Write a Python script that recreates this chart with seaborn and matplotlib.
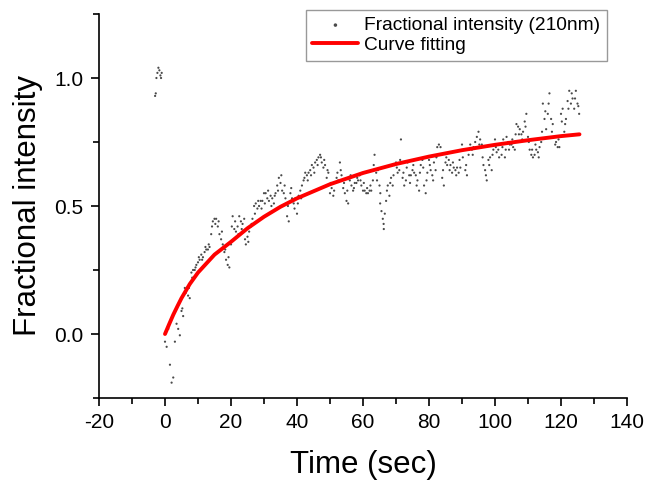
import matplotlib
matplotlib.use("Agg")
import matplotlib.pyplot as plt
import seaborn as sns
from matplotlib.ticker import MultipleLocator, FormatStrFormatter

# ---- data ----
time_sec = [
    -3.0, -2.8, -2.6, -2.3, -2.0, -1.7, -1.4, -1.2, -1.0,
    0.0, 0.5, 1.0, 1.5, 2.0, 2.5, 3.0, 3.5, 4.0, 4.5,
    5.0, 5.5, 6.0, 6.5, 7.0, 7.5, 8.0, 8.5, 9.0, 9.5,
    10.0, 10.5, 11.0, 11.5, 12.0, 12.5, 13.0, 13.5, 14.0, 14.5,
    15.0, 15.5, 16.0, 16.5, 17.0, 17.5, 18.0, 18.5, 19.0, 19.5,
    20.0, 20.5, 21.0, 21.5, 22.0, 22.5, 23.0, 23.5, 24.0, 24.5,
    25.0, 25.5, 26.0, 26.5, 27.0, 27.5, 28.0, 28.5, 29.0, 29.5,
    30.0, 30.5, 31.0, 31.5, 32.0, 32.5, 33.0, 33.5, 34.0, 34.5,
    35.0, 35.5, 36.0, 36.5, 37.0, 37.5, 38.0, 38.5, 39.0, 39.5,
    40.0, 40.5, 41.0, 41.5, 42.0, 42.5, 43.0, 43.5, 44.0, 44.5,
    45.0, 45.5, 46.0, 46.5, 47.0, 47.5, 48.0, 48.5, 49.0, 49.5,
    50.0, 50.5, 51.0, 51.5, 52.0, 52.5, 53.0, 53.5, 54.0, 54.5,
    55.0, 55.5, 56.0, 56.5, 57.0, 57.5, 58.0, 58.5, 59.0, 59.5,
    60.0, 60.5, 61.0, 61.5, 62.0, 62.5, 63.0, 63.5, 64.0, 64.5,
    65.0, 65.2, 65.6, 66.0, 66.3, 66.6, 67.0, 67.5, 68.0, 68.5,
    69.0, 69.5, 70.0, 70.5, 71.0, 71.5, 72.0, 72.5, 73.0, 73.5,
    74.0, 74.5, 75.0, 75.5, 76.0, 76.5, 77.0, 77.5, 78.0, 78.5,
    79.0, 79.5, 80.0, 80.5, 81.0, 81.5, 82.0, 82.5, 83.0, 83.5,
    84.0, 84.5, 85.0, 85.5, 86.0, 86.5, 87.0, 87.5, 88.0, 88.5,
    89.0, 89.5, 90.0, 90.5, 91.0, 91.5, 92.0, 92.5, 93.0, 93.5,
    94.0, 94.5, 95.0, 95.5, 96.0, 96.5, 97.0, 97.5, 98.0, 98.5,
    99.0, 99.5, 100.0, 100.5, 101.0, 101.5, 102.0, 102.5, 103.0, 103.5,
    104.0, 104.5, 105.0, 105.5, 106.0, 106.5, 107.0, 107.5, 108.0, 108.5,
    109.0, 109.5, 110.0, 110.5, 111.0, 111.5, 112.0, 112.5, 113.0, 113.5,
    114.0, 114.5, 115.0, 115.5, 116.0, 116.5, 117.0, 117.5, 118.0, 118.5,
    119.0, 119.5, 120.0, 120.5, 121.0, 121.5, 122.0, 122.5, 123.0, 123.5,
    124.0, 124.5, 125.0, 125.5,
]
intensity = [
    0.93, 0.94, 1.00, 1.02, 1.04, 1.03, 1.01, 1.00, 1.02,
    -0.03, -0.05, 0.02, -0.12, -0.19, -0.17, -0.03, 0.04, 0.02, -0.005,
    0.09, 0.07, 0.18, 0.17, 0.15, 0.14, 0.24, 0.25, 0.25, 0.27,
    0.28, 0.29, 0.31, 0.30, 0.32, 0.33, 0.33, 0.34, 0.39, 0.44,
    0.45, 0.45, 0.42, 0.39, 0.37, 0.35, 0.32, 0.29, 0.27, 0.26,
    0.35, 0.46, 0.41, 0.40, 0.42, 0.46, 0.44, 0.43, 0.45, 0.35,
    0.38, 0.40, 0.42, 0.45, 0.50, 0.51, 0.49, 0.50, 0.52, 0.52,
    0.55, 0.55, 0.53, 0.52, 0.54, 0.53, 0.51, 0.55, 0.58, 0.61,
    0.59, 0.56, 0.55, 0.53, 0.46, 0.44, 0.55, 0.53, 0.51, 0.53,
    0.47, 0.54, 0.56, 0.58, 0.60, 0.63, 0.62, 0.63, 0.64, 0.66,
    0.65, 0.67, 0.68, 0.69, 0.70, 0.67, 0.65, 0.66, 0.61, 0.63,
    0.55, 0.57, 0.54, 0.59, 0.61, 0.60, 0.67, 0.62, 0.57, 0.55,
    0.52, 0.51, 0.60, 0.58, 0.56, 0.59, 0.59, 0.60, 0.62, 0.58,
    0.56, 0.56, 0.55, 0.55, 0.56, 0.56, 0.60, 0.70, 0.63, 0.64,
    0.58, 0.51, 0.48, 0.45, 0.41, 0.47, 0.52, 0.58, 0.54, 0.61,
    0.58, 0.66, 0.67, 0.63, 0.64, 0.76, 0.61, 0.58, 0.60, 0.67,
    0.62, 0.62, 0.64, 0.63, 0.62, 0.60, 0.56, 0.66, 0.68, 0.58,
    0.55, 0.63, 0.68, 0.64, 0.62, 0.67, 0.64, 0.73, 0.74, 0.73,
    0.61, 0.58, 0.67, 0.66, 0.68, 0.66, 0.63, 0.65, 0.64, 0.65,
    0.63, 0.65, 0.74, 0.72, 0.64, 0.62, 0.70, 0.74, 0.72, 0.73,
    0.75, 0.77, 0.79, 0.76, 0.74, 0.66, 0.64, 0.60, 0.68, 0.69,
    0.64, 0.72, 0.76, 0.71, 0.72, 0.74, 0.70, 0.76, 0.69, 0.77,
    0.75, 0.74, 0.74, 0.73, 0.72, 0.82, 0.81, 0.80, 0.78, 0.79,
    0.83, 0.86, 0.77, 0.72, 0.70, 0.69, 0.70, 0.72, 0.71, 0.73,
    0.75, 0.90, 0.84, 0.80, 0.86, 0.94, 0.84, 0.82, 0.77, 0.75,
    0.73, 0.73, 0.86, 0.88, 0.79, 0.84, 0.91, 0.95, 0.90, 0.92,
    0.88, 0.95, 0.90, 0.86,
]

# interleaved samples (quarter-second offsets)
time_sec_b = [
    5.25, 6.25, 7.25, 8.25, 9.25, 10.25, 11.25, 12.25, 13.25, 14.25,
    15.25, 16.25, 17.25, 18.25, 19.25, 20.25, 21.25, 22.25, 23.25, 24.25,
    25.25, 26.25, 27.25, 28.25, 29.25, 30.25, 31.25, 32.25, 33.25, 34.25,
    35.25, 36.25, 37.25, 38.25, 39.25, 40.25, 41.25, 42.25, 43.25, 44.25,
    45.25, 46.25, 47.25, 48.25, 49.25, 50.25, 51.25, 52.25, 53.25, 54.25,
    55.25, 56.25, 57.25, 58.25, 59.25, 60.25, 61.25, 62.25, 63.25, 64.25,
    65.25, 66.25, 67.25, 68.25, 69.25, 70.25, 71.25, 72.25, 73.25, 74.25,
    75.25, 76.25, 77.25, 78.25, 79.25, 80.25, 81.25, 82.25, 83.25, 84.25,
    85.25, 86.25, 87.25, 88.25, 89.25, 90.25, 91.25, 92.25, 93.25, 94.25,
    95.25, 96.25, 97.25, 98.25, 99.25, 100.25, 101.25, 102.25, 103.25, 104.25,
    105.25, 106.25, 107.25, 108.25, 109.25, 110.25, 111.25, 112.25, 113.25, 114.25,
    115.25, 116.25, 117.25, 118.25, 119.25, 120.25, 121.25, 122.25, 123.25, 124.25, 125.25,
]
intensity_b = [
    0.10, 0.16, 0.18, 0.22, 0.26, 0.30, 0.29, 0.34, 0.35, 0.42,
    0.43, 0.44, 0.40, 0.33, 0.30, 0.42, 0.44, 0.39, 0.41, 0.37,
    0.36, 0.43, 0.47, 0.52, 0.49, 0.51, 0.56, 0.50, 0.54, 0.56,
    0.62, 0.58, 0.50, 0.57, 0.49, 0.51, 0.53, 0.61, 0.60, 0.62,
    0.63, 0.66, 0.69, 0.68, 0.64, 0.59, 0.56, 0.63, 0.64, 0.59,
    0.56, 0.62, 0.57, 0.61, 0.60, 0.59, 0.57, 0.58, 0.66, 0.60,
    0.55, 0.43, 0.56, 0.59, 0.62, 0.65, 0.68, 0.63, 0.65, 0.59,
    0.66, 0.58, 0.63, 0.65, 0.60, 0.66, 0.60, 0.69, 0.70, 0.64,
    0.69, 0.64, 0.67, 0.62, 0.68, 0.69, 0.66, 0.72, 0.70, 0.73,
    0.74, 0.69, 0.62, 0.66, 0.70, 0.73, 0.69, 0.73, 0.72, 0.72,
    0.76, 0.78, 0.78, 0.76, 0.81, 0.75, 0.72, 0.74, 0.69, 0.79,
    0.87, 0.90, 0.79, 0.74, 0.76, 0.83, 0.82, 0.88, 0.94, 0.92, 0.89,
]

fit_time = [0, 1.25, 2.5, 3.75, 5, 7.5, 10, 15, 20, 25, 30, 35, 40, 50, 60, 70, 80, 90,
            100, 110, 120, 125.6]
fit_value = [0.0, 0.038, 0.075, 0.108, 0.14, 0.195, 0.24, 0.31, 0.36, 0.413, 0.458, 0.497,
             0.53, 0.585, 0.629, 0.664, 0.693, 0.718, 0.739, 0.757, 0.773, 0.78]

x_ticks = [-20, 0, 20, 40, 60, 80, 100, 120, 140]

# ---- styling ----
sns.set_style("ticks")
plt.rcParams['font.family'] = ['Liberation Sans', 'DejaVu Sans']
plt.rcParams['axes.unicode_minus'] = False
plt.rcParams['text.color'] = 'black'
plt.rcParams['axes.labelcolor'] = 'black'
plt.rcParams['xtick.color'] = 'black'
plt.rcParams['ytick.color'] = 'black'

fig = plt.figure(figsize=(6.47, 4.83), dpi=100)
ax = fig.add_axes([99 / 647, 85 / 483, 528 / 647, 384 / 483])

all_t = time_sec + time_sec_b
all_y = intensity + intensity_b
sns.scatterplot(x=all_t, y=all_y, s=2.5, color='#4a4a4a', edgecolor='none',
                marker='o', label='Fractional intensity (210nm)', ax=ax, zorder=2)
sns.lineplot(x=fit_time, y=fit_value, color='#ff0000', lw=2.8,
             label='Curve fitting', ax=ax, zorder=3)

ax.set_xlim(-20, 140)
ax.set_ylim(-0.25, 1.25)
ax.set_xticks(x_ticks)
ax.xaxis.set_minor_locator(MultipleLocator(10))
ax.yaxis.set_major_locator(MultipleLocator(0.5))
ax.yaxis.set_minor_locator(MultipleLocator(0.25))
ax.yaxis.set_major_formatter(FormatStrFormatter('%.1f'))

for s in ['left', 'bottom']:
    ax.spines[s].set_linewidth(1.2)
    ax.spines[s].set_color('black')
sns.despine(ax=ax)

ax.tick_params(which='major', direction='out', length=6, width=1.2,
               labelsize=15, pad=5, color='black', labelcolor='black')
ax.tick_params(which='minor', direction='out', length=4, width=1.2, color='black')

ax.set_xlabel('Time (sec)', fontsize=22.5, labelpad=13, color='black')
ax.set_ylabel('Fractional intensity', fontsize=22.5, labelpad=8, color='black')

leg = ax.legend(loc='upper right', bbox_to_anchor=(607 / 647, 1 - 10 / 483),
                bbox_transform=fig.transFigure, fontsize=13.8, frameon=True,
                fancybox=False, edgecolor='#808080', handlelength=2.4,
                handletextpad=0.3, borderpad=0.35, labelspacing=0.12,
                markerscale=1.6, borderaxespad=0)
leg.get_frame().set_linewidth(1.0)
for t in leg.get_texts():
    t.set_color('black')

fig.savefig('out.png', dpi=100)
